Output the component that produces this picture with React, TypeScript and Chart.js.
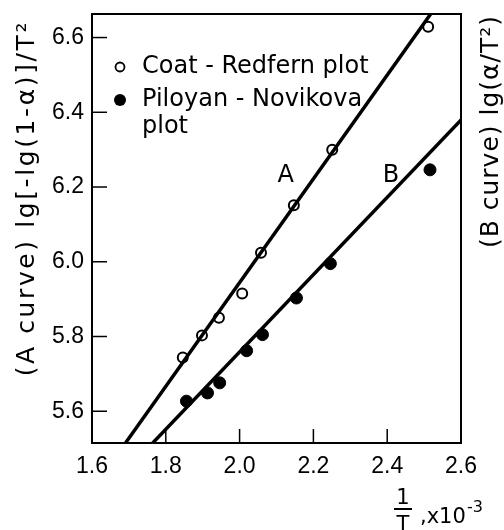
import React, { useEffect, useRef } from "react";
import { Chart, registerables } from "chart.js";

Chart.register(...registerables);

// Coat-Redfern (A curve) points: open circles
const coatX = [1.846, 1.898, 1.944, 2.007, 2.058, 2.147, 2.251, 2.511];
const coatY = [5.744, 5.803, 5.85, 5.915, 6.024, 6.151, 6.3, 6.629];
// Piloyan-Novikova (B curve) points: filled circles
const piloX = [1.856, 1.913, 1.946, 2.019, 2.062, 2.154, 2.246, 2.516];
const piloY = [5.627, 5.649, 5.676, 5.762, 5.805, 5.903, 5.995, 6.246];
// fitted straight lines (end points)
const lineAX = [1.68, 2.53];
const lineAY = [5.5, 6.68];
const lineBX = [1.75, 2.62];
const lineBY = [5.5, 6.4];

const xMin = 1.6;
const xMax = 2.6;
const yMin = 5.515;
const yMax = 6.663;
const tickStep = 0.2;

const legendLabels = ["Coat - Redfern plot", "Piloyan - Novikova", "plot"];
const curveLabels = ["A", "B"];
const curveLabelX = [2.125, 2.41];
const curveLabelY = [6.229, 6.229];
const yTitleLeft = "(A curve) lg[-lg(1-α)]/T²";
const yTitleRight = "(B curve) lg(α/T²)";

const FONT = "'DejaVu Sans', sans-serif";
const TICK_FONT = "'Liberation Sans', sans-serif";

const pts = (xs: number[], ys: number[]) => xs.map((x, i) => ({ x, y: ys[i] }));

const decorPlugin = {
  id: "decor",
  afterDraw(chart: any) {
    const { ctx, chartArea: ca, scales } = chart;
    const xs = scales.x;
    const ys = scales.y;
    ctx.save();
    // frame
    ctx.strokeStyle = "#000";
    ctx.lineWidth = 2;
    ctx.strokeRect(ca.left, ca.top, ca.right - ca.left, ca.bottom - ca.top);
    // inward ticks
    ctx.lineWidth = 1.5;
    xs.ticks.forEach((t: any) => {
      const px = xs.getPixelForValue(t.value);
      ctx.beginPath();
      ctx.moveTo(px, ca.bottom);
      ctx.lineTo(px, ca.bottom - 14);
      ctx.stroke();
    });
    ys.ticks.forEach((t: any) => {
      const py = ys.getPixelForValue(t.value);
      ctx.beginPath();
      ctx.moveTo(ca.left, py);
      ctx.lineTo(ca.left + 15, py);
      ctx.stroke();
    });
    // legend
    ctx.fillStyle = "#000";
    ctx.font = `24px ${FONT}`;
    ctx.textBaseline = "middle";
    ctx.textAlign = "left";
    const lx = ca.left + 28;
    const ly = ca.top + 53;
    ctx.lineWidth = 1.8;
    ctx.beginPath();
    ctx.arc(lx, ly, 4.5, 0, Math.PI * 2);
    ctx.stroke();
    ctx.fillText(legendLabels[0], lx + 22, ly);
    ctx.beginPath();
    ctx.arc(lx, ly + 33, 6, 0, Math.PI * 2);
    ctx.fill();
    ctx.fillText(legendLabels[1], lx + 22, ly + 33);
    ctx.fillText(legendLabels[2], lx + 22, ly + 60);
    // curve labels
    ctx.textAlign = "center";
    curveLabels.forEach((s, i) => {
      ctx.fillText(s, xs.getPixelForValue(curveLabelX[i]), ys.getPixelForValue(curveLabelY[i]));
    });
    // left axis title (reads bottom to top)
    ctx.save();
    ctx.translate(27, ca.top + 6);
    ctx.rotate(-Math.PI / 2);
    ctx.textAlign = "right";
    ctx.textBaseline = "middle";
    ctx.font = `25px ${FONT}`;
    (ctx as any).letterSpacing = "2.6px";
    ctx.fillText(yTitleLeft, 0, 0);
    ctx.restore();
    // right axis title (reads bottom to top)
    ctx.save();
    ctx.translate(ca.right + 30, ca.top + 1);
    ctx.rotate(-Math.PI / 2);
    ctx.textAlign = "right";
    ctx.textBaseline = "middle";
    ctx.font = `25px ${FONT}`;
    (ctx as any).letterSpacing = "1px";
    ctx.fillText(yTitleRight, 0, 0);
    ctx.restore();
    // x title: 1/T , x10^-3
    const fx = ca.right - 58;
    const fy = ca.bottom + 66;
    ctx.font = `21px ${FONT}`;
    ctx.textAlign = "center";
    ctx.textBaseline = "alphabetic";
    ctx.fillText("1", fx, fy - 5);
    ctx.lineWidth = 2;
    ctx.beginPath();
    ctx.moveTo(fx - 9, fy);
    ctx.lineTo(fx + 9, fy);
    ctx.stroke();
    ctx.fillText("T", fx, fy + 22);
    ctx.textAlign = "left";
    ctx.fillText(",x10", fx + 17, fy + 14);
    ctx.font = `16px ${FONT}`;
    ctx.fillText("-3", fx + 64, fy + 3);
    ctx.restore();
  },
};

export default function App() {
  const ref = useRef<HTMLCanvasElement | null>(null);
  useEffect(() => {
    if (!ref.current) return;
    Chart.defaults.font.family = FONT;
    Chart.defaults.color = "#000";
    const chart = new Chart(ref.current, {
      type: "scatter",
      data: {
        datasets: [
          {
            label: "A line",
            data: pts(lineAX, lineAY),
            showLine: true,
            borderColor: "#000",
            borderWidth: 3.5,
            pointRadius: 0,
          },
          {
            label: "B line",
            data: pts(lineBX, lineBY),
            showLine: true,
            borderColor: "#000",
            borderWidth: 3.5,
            pointRadius: 0,
          },
          {
            label: legendLabels[0],
            data: pts(coatX, coatY),
            pointRadius: 5,
            pointBackgroundColor: "#fff",
            pointBorderColor: "#000",
            pointBorderWidth: 2,
          },
          {
            label: "Piloyan - Novikova plot",
            data: pts(piloX, piloY),
            pointRadius: 6,
            pointBackgroundColor: "#000",
            pointBorderColor: "#000",
            pointBorderWidth: 1,
          },
        ],
      },
      options: {
        animation: false,
        responsive: false,
        events: [],
        layout: { padding: { left: 0, right: 43, top: 14, bottom: 0 } },
        plugins: { legend: { display: false }, tooltip: { enabled: false } },
        scales: {
          x: {
            type: "linear",
            min: xMin,
            max: xMax,
            grid: { display: false, drawTicks: false },
            border: { display: false },
            ticks: {
              stepSize: tickStep,
              includeBounds: false,
              padding: 10,
              font: { size: 23, family: TICK_FONT },
              color: "#000",
              maxRotation: 0,
              callback: (v: any) => Number(v).toFixed(1),
            },
            afterFit: (s: any) => {
              s.height = 87;
              s.paddingLeft = 0;
              s.paddingRight = 0;
            },
          },
          y: {
            type: "linear",
            min: yMin,
            max: yMax,
            grid: { display: false, drawTicks: false },
            border: { display: false },
            ticks: {
              stepSize: tickStep,
              includeBounds: false,
              padding: 8,
              font: { size: 23, family: TICK_FONT },
              color: "#000",
              callback: (v: any) => Number(v).toFixed(1),
            },
            afterFit: (s: any) => {
              s.width = 92;
              s.paddingTop = 0;
              s.paddingBottom = 0;
            },
          },
        },
      },
      plugins: [decorPlugin],
    } as any);
    return () => chart.destroy();
  }, []);
  return (
    <div style={{ position: "absolute", left: 0, top: 0, width: 504, height: 530, background: "#fff" }}>
      <canvas ref={ref} width={504} height={530} style={{ display: "block" }} />
    </div>
  );
}
